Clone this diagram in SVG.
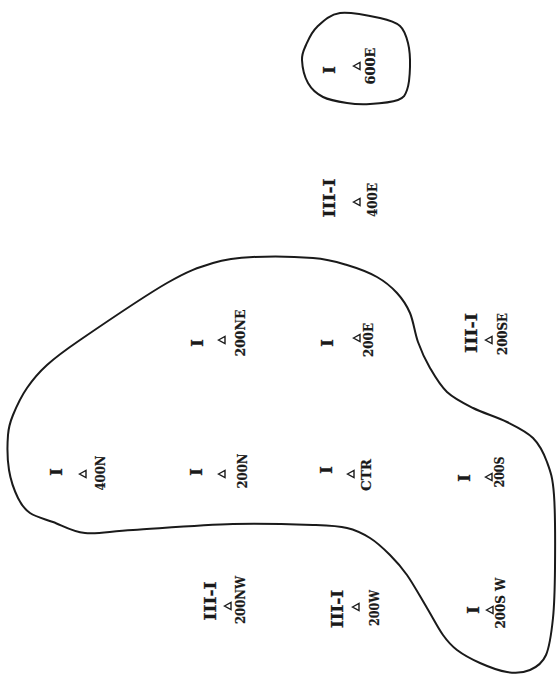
<svg xmlns="http://www.w3.org/2000/svg" xmlns:xlink="http://www.w3.org/1999/xlink" width="560" height="675" viewBox="0 0 560 675">
<style>
  .bound { fill: none; stroke: #1a1a1a; stroke-width: 2; stroke-linejoin: round; }
  .cls { font-family: "DejaVu Serif", "Liberation Serif", serif; font-weight: bold; font-size: 16px; fill: #1a1a1a; stroke: #1a1a1a; stroke-width: 0.3; text-anchor: middle; dominant-baseline: central; }
  .nm { font-family: "DejaVu Serif", "Liberation Serif", serif; font-weight: bold; font-size: 13px; fill: #1a1a1a; stroke: #1a1a1a; stroke-width: 0.2; text-anchor: middle; dominant-baseline: central; }
  .tri { fill: none; stroke: #1a1a1a; stroke-width: 1.4; stroke-linejoin: miter; }
</style>
<defs>
  <path id="tri" class="tri" d="M -3.5,0 L 3,-3.5 L 3,3.5 Z"/>
</defs>
<rect width="560" height="675" fill="#ffffff"/>

<g id="boundaries">
  <path id="zone-main" class="bound" d="M 80,340 C 100,326.3 144.8,295.8 167,283 S 198.7,267.3 213,263 S 236.3,257.8 253,257 S 297.3,256.7 313,258 S 336.3,261.8 347,265 S 368.7,272.3 377,277 S 391.5,287 397,293 S 406.5,304.8 410,313 S 414.7,332.8 418,342 S 425.2,359.7 430,368 S 439.8,385.3 447,392 S 463,403 473,408 S 497,417 507,422 S 526.3,431.3 533,438 S 543.5,452.5 547,462 S 552.7,477.3 554,495 S 555.2,547.5 555,568 S 554.5,603.5 553,618 S 549.8,646.3 546,655 S 536.5,667.2 530,670 S 515.3,673.2 507,672 S 488.3,666.7 480,663 S 463.2,654.7 457,650 S 448,642 443,635 S 433,618 427,608 S 413.2,583.8 407,575 S 396.2,561.2 390,555 S 377.2,542.5 370,538 S 356.5,530.2 347,528 S 332,525.7 313,525 S 263,523.2 233,524 S 157.7,528.5 133,530 S 98.3,534.3 85,533 S 62.2,525.3 53,522 S 35.8,517 30,513 S 21.5,505.2 18,498 S 10.7,480.5 9,470 S 7.3,444.2 8,435 S 9.8,422.8 13,415 S 21.3,396.3 27,388 S 38.2,373 47,365 S 60,353.7 80,340 Z"/>
  <path id="zone-600E" class="bound" d="M 340,13 C 350.5,11.5 370,15.8 380,18 S 395.3,21.8 400,26 S 406.3,36.2 408,43 S 410.2,59.2 410,67 S 409,84.5 407,90 S 404.2,97.7 398,100 S 378.5,103.5 370,104 S 354.8,104.2 347,103 S 329.5,100.3 323,97 S 311.5,89.2 308,83 S 302.3,66.3 302,60 S 303.5,50.5 306,45 S 311.3,32.3 317,27 S 329.5,14.5 340,13 Z"/>
</g>

<g id="st-600E">
  <text class="cls" transform="translate(329,70) rotate(-90)">I</text>
  <use xlink:href="#tri" x="357" y="66"/>
  <text class="nm" transform="translate(370,66) rotate(-90)" textLength="37" lengthAdjust="spacingAndGlyphs">600E</text>
</g>
<g id="st-400E">
  <text class="cls" transform="translate(329,198) rotate(-90)" textLength="39" lengthAdjust="spacingAndGlyphs">III-I</text>
  <use xlink:href="#tri" x="357" y="202"/>
  <text class="nm" transform="translate(372,200) rotate(-90)" textLength="34" lengthAdjust="spacingAndGlyphs">400E</text>
</g>
<g id="st-200NE">
  <text class="cls" transform="translate(197,343) rotate(-90)">I</text>
  <use xlink:href="#tri" x="222" y="340"/>
  <text class="nm" transform="translate(240,333) rotate(-90)" textLength="47" lengthAdjust="spacingAndGlyphs">200NE</text>
</g>
<g id="st-200E">
  <text class="cls" transform="translate(327,343) rotate(-90)">I</text>
  <use xlink:href="#tri" x="357" y="338"/>
  <text class="nm" transform="translate(368,340) rotate(-90)" textLength="34" lengthAdjust="spacingAndGlyphs">200E</text>
</g>
<g id="st-200SE">
  <text class="cls" transform="translate(471,333) rotate(-90)" textLength="40" lengthAdjust="spacingAndGlyphs">III-I</text>
  <use xlink:href="#tri" x="489" y="340"/>
  <text class="nm" transform="translate(502,334) rotate(-90)" textLength="42" lengthAdjust="spacingAndGlyphs">200SE</text>
</g>
<g id="st-400N">
  <text class="cls" transform="translate(56,472) rotate(-90)">I</text>
  <use xlink:href="#tri" x="83" y="474"/>
  <text class="nm" transform="translate(100.5,473) rotate(-90)" textLength="35" lengthAdjust="spacingAndGlyphs">400N</text>
</g>
<g id="st-200N">
  <text class="cls" transform="translate(196,472) rotate(-90)">I</text>
  <use xlink:href="#tri" x="222" y="474"/>
  <text class="nm" transform="translate(242,471) rotate(-90)" textLength="35" lengthAdjust="spacingAndGlyphs">200N</text>
</g>
<g id="st-CTR">
  <text class="cls" transform="translate(326,470) rotate(-90)">I</text>
  <use xlink:href="#tri" x="351" y="474"/>
  <text class="nm" transform="translate(366.5,475) rotate(-90)" textLength="32" lengthAdjust="spacingAndGlyphs">CTR</text>
</g>
<g id="st-200S">
  <text class="cls" transform="translate(464,478) rotate(-90)">I</text>
  <use xlink:href="#tri" x="489" y="477"/>
  <text class="nm" transform="translate(499,472) rotate(-90)" textLength="31" lengthAdjust="spacingAndGlyphs">200S</text>
</g>
<g id="st-200NW">
  <text class="cls" transform="translate(210,601) rotate(-90)" textLength="39" lengthAdjust="spacingAndGlyphs">III-I</text>
  <use xlink:href="#tri" x="228" y="606"/>
  <text class="nm" transform="translate(240,600) rotate(-90)" textLength="48" lengthAdjust="spacingAndGlyphs">200NW</text>
</g>
<g id="st-200W">
  <text class="cls" transform="translate(337,609) rotate(-90)" textLength="38" lengthAdjust="spacingAndGlyphs">III-I</text>
  <use xlink:href="#tri" x="356" y="607"/>
  <text class="nm" transform="translate(374,608) rotate(-90)" textLength="36" lengthAdjust="spacingAndGlyphs">200W</text>
</g>
<g id="st-200SW">
  <text class="cls" transform="translate(473,610) rotate(-90)">I</text>
  <use xlink:href="#tri" x="490" y="610"/>
  <text class="nm" transform="translate(500,603) rotate(-90)" textLength="51" lengthAdjust="spacingAndGlyphs">200S W</text>
</g>
</svg>
